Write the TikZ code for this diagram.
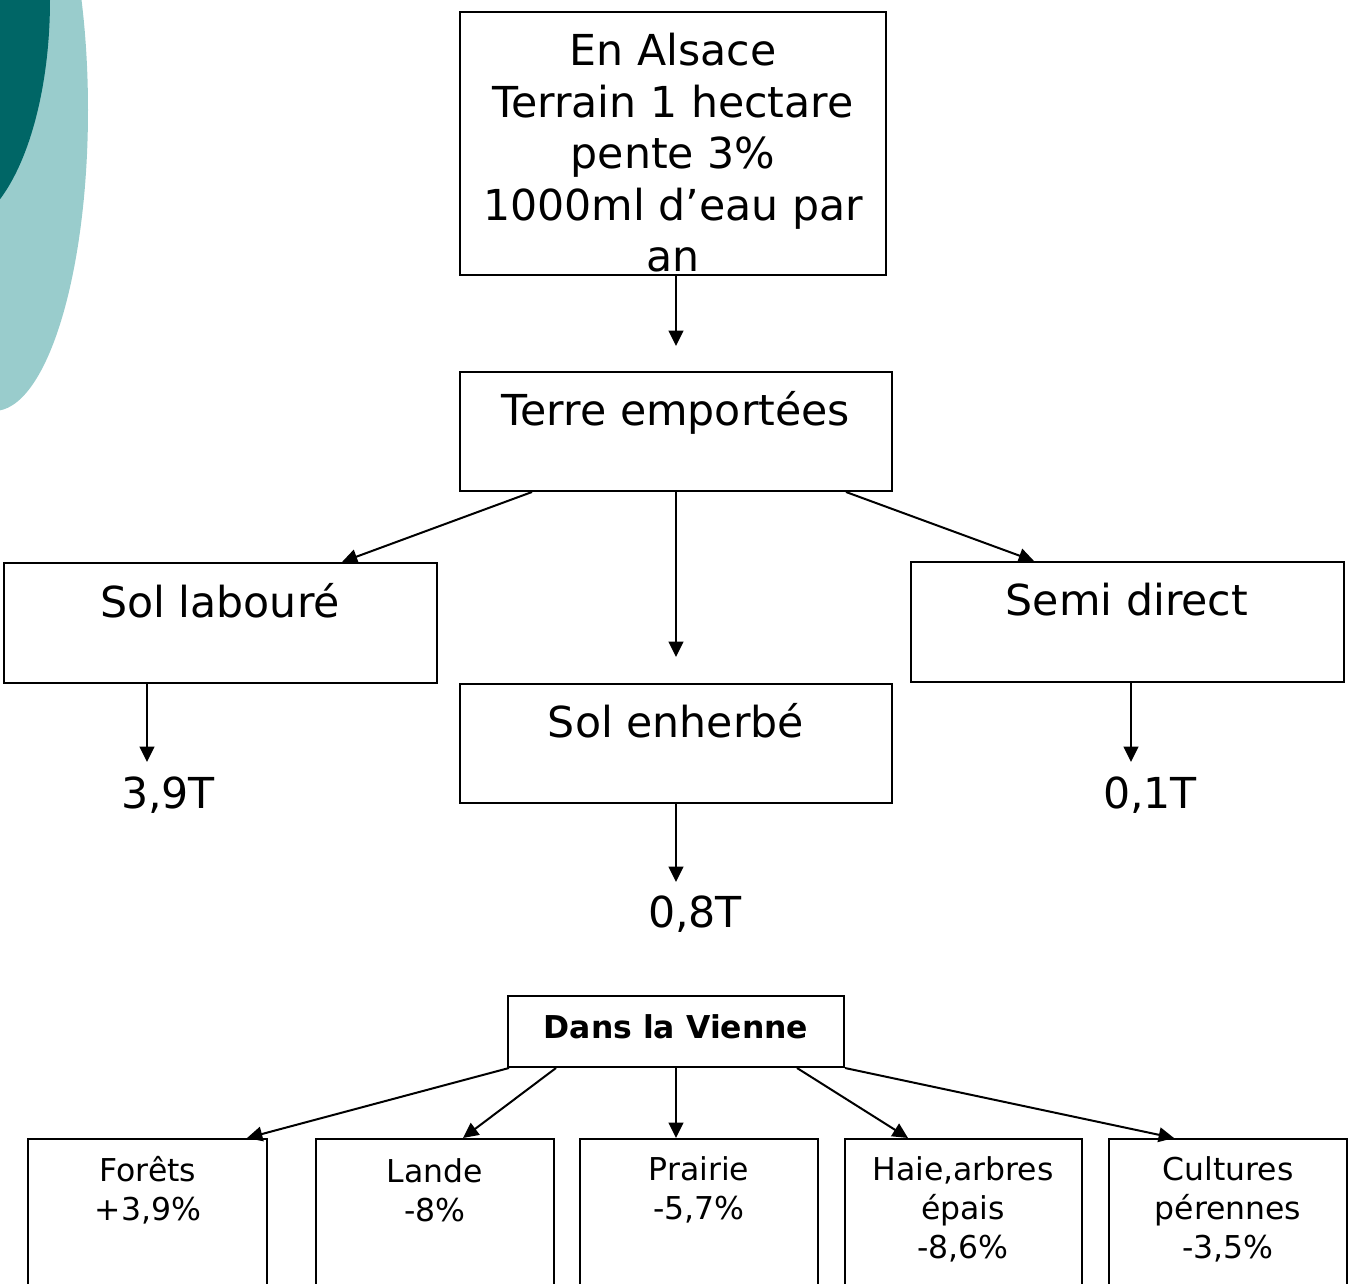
\documentclass[tikz,border=0pt]{standalone}
\usepackage{fontspec}
\setmainfont{DejaVu Sans}
\usetikzlibrary{arrows.meta,fit,calc}
\definecolor{darkteal}{HTML}{006666}
\definecolor{lightteal}{HTML}{99CCCC}
\begin{document}
\begin{tikzpicture}[x=0.75pt,y=-0.75pt,
  box/.style={draw, line width=1.5pt, inner sep=0pt},
  big/.style={font=\fontsize{32}{38.6}\selectfont, align=center, inner sep=0pt},
  small/.style={font=\fontsize{23.6}{29.25}\selectfont, align=center, inner sep=0pt},
  arr/.style={-{Triangle[length=11.5pt,width=11pt]}, line width=1.5pt}]
\useasboundingbox (0,0) rectangle (1353,1284);
\clip (0,0) rectangle (1353,1284);
% decoration
\fill[lightteal] (-6,110) ellipse [x radius=94, y radius=301];
\fill[darkteal] (-50,0) ellipse [x radius=100, y radius=230];
% boxes
\node[box, fit={(460,12) (886,275)}] (top) {};
\node[big, anchor=center] (toptxt) at (673,153) {En Alsace\\Terrain 1 hectare\\pente 3\%\\1000ml d’eau par\\an};
\node[box, fit={(460,372) (892,491)}] (terre) {};
\node[big, anchor=base] (terretxt) at (676,425) {Terre emportées};
\node[box, fit={(4,563) (437,683)}] (labour) {};
\node[big, anchor=base] (labourtxt) at (220,617) {Sol labouré};
\node[box, fit={(911,562) (1344,682)}] (semi) {};
\node[big, anchor=base] (semitxt) at (1127,615) {Semi direct};
\node[box, fit={(460,684) (892,803)}] (enherbe) {};
\node[big, anchor=base] (enherbetxt) at (676,737) {Sol enherbé};
\node[big, anchor=base] (v39) at (168,808) {3,9T};
\node[big, anchor=base] (v01) at (1150,808) {0,1T};
\node[big, anchor=base] (v08) at (695,927) {0,8T};
% arrows top part
\draw[arr, shorten >=18.75pt] (top.south -| terre.north) -- (terre.north);
\draw[arr] ($(terre.south west)+(73,0)$) -- ($(labour.north west)+(339,0)$);
\draw[arr] ($(terre.south east)+(-47,0)$) -- ($(semi.north west)+(124,0)$);
\draw[arr, shorten >=19.5pt] (terre.south) -- (enherbe.north);
\coordinate (a1) at ($(labour.south west)+(144,0)$);
\draw[arr] (a1) -- (a1 |- 0,762);
\coordinate (a2) at ($(semi.south west)+(221,0)$);
\draw[arr] (a2) -- (a2 |- 0,762);
\coordinate (a3) at ($(enherbe.south west)+(217,0)$);
\draw[arr] (a3) -- (a3 |- 0,882);
% Vienne part
\node[box, fit={(508,996) (844,1067)}] (vienne) {};
\node[small, font=\fontsize{23.6}{29.25}\selectfont\bfseries] (viennetxt) at (676,1027) {Dans la Vienne};
\node[box, fit={(28,1139) (267,1320)}] (forets) {};
\node[box, fit={(316,1139) (554,1320)}] (lande) {};
\node[box, fit={(580,1139) (818,1320)}] (prairie) {};
\node[box, fit={(845,1139) (1082,1320)}] (haie) {};
\node[box, fit={(1109,1139) (1347,1320)}] (cultures) {};
\node[small] (foretstxt) at (148,1190) {Forêts\\+3,9\%};
\node[small] (landetxt) at (435,1190) {Lande\\-8\%};
\node[small] (prairietxt) at (699,1190) {Prairie\\-5,7\%};
\node[small] (haietxt) at (963,1209) {Haie,arbres\\épais\\-8,6\%};
\node[small] (culturestxt) at (1228,1209) {Cultures\\pérennes\\-3,5\%};
\draw[arr] ($(vienne.south west)+(2,0)$) -- ($(forets.north west)+(220,0)$);
\draw[arr] ($(vienne.south west)+(49,0)$) -- ($(lande.north west)+(148,0)$);
\draw[arr] ($(vienne.south west)+(169,0)$) -- ($(prairie.north west)+(97,0)$);
\draw[arr] ($(vienne.south west)+(290,0)$) -- ($(haie.north west)+(64,0)$);
\draw[arr] (vienne.south east) -- ($(cultures.north west)+(66,0)$);
\end{tikzpicture}
\end{document}
